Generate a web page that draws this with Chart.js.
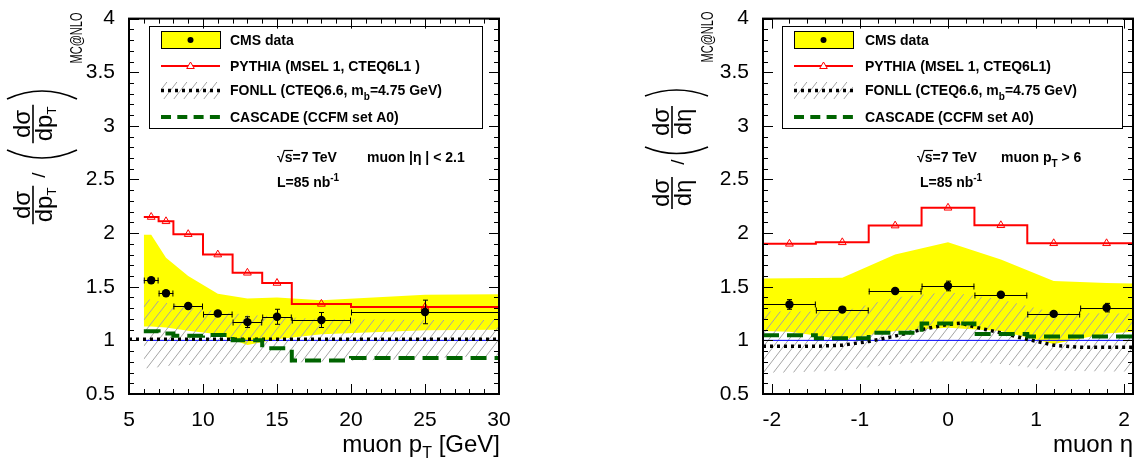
<!DOCTYPE html>
<html><head><meta charset="utf-8">
<script src="https://cdn.jsdelivr.net/npm/chart.js@4"></script>
<style>
html,body{margin:0;padding:0;background:#fff;}
#wrap{position:relative;width:1145px;height:464px;overflow:hidden;}
canvas{position:absolute;left:0;top:0;}
</style></head><body>
<div id="wrap"><canvas id="c1" width="1145" height="464"></canvas><canvas id="c2" width="1145" height="464"></canvas></div>
<script>
// ---------------- left panel: muon pT ----------------
const ptEdges   = [6, 7, 8, 10, 12, 14, 16, 20, 30];
const ptCenters = [6.5, 7.5, 9, 11, 13, 15, 18, 25];
const ptData    = [1.56, 1.44, 1.32, 1.25, 1.17, 1.22, 1.19, 1.265];
const ptDataErr = [0.02, 0.02, 0.02, 0.02, 0.05, 0.07, 0.07, 0.11];
const ptPythia  = [2.15, 2.11, 1.99, 1.80, 1.63, 1.535, 1.34, 1.31];
const ptCascade = [1.085, 1.063, 1.043, 1.05, 1.0, 0.926, 0.812, 0.835];
const ptFonllX  = [5, 6, 8, 10, 12, 14, 16, 20, 25, 30];
const ptFonll   = [1.01, 1.01, 1.01, 1.01, 1.01, 1.01, 1.01, 1.01, 1.01, 1.01];
const ptBandX   = [6, 6.5, 7.5, 9, 11, 13, 15, 18, 25, 30];
const ptSystHi  = [1.985, 1.985, 1.77, 1.60, 1.435, 1.39, 1.40, 1.375, 1.425, 1.43];
const ptSystLo  = [1.13, 1.13, 1.12, 1.09, 1.057, 0.956, 1.011, 1.057, 1.094, 1.10];
const ptFonllHi = [1.38, 1.38, 1.35, 1.31, 1.27, 1.24, 1.22, 1.20, 1.19, 1.19];
const ptFonllLo = [0.74, 0.74, 0.76, 0.77, 0.78, 0.79, 0.79, 0.80, 0.83, 0.86];
const ptRefX    = [6, 30];
const ptTicks   = [5, 10, 15, 20, 25, 30];

// ---------------- right panel: muon eta ----------------
const etaEdges   = [-2.1, -1.5, -0.9, -0.3, 0.3, 0.9, 1.5, 2.1];
const etaCenters = [-1.8, -1.2, -0.6, 0, 0.6, 1.2, 1.8];
const etaData    = [1.335, 1.287, 1.461, 1.507, 1.425, 1.247, 1.305];
const etaDataErr = [0.045, 0.02, 0.02, 0.045, 0.02, 0.02, 0.04];
const etaPythia  = [1.90, 1.914, 2.07, 2.236, 2.073, 1.905, 1.905];
const etaCascade = [1.048, 1.02, 1.072, 1.158, 1.06, 1.035, 1.035];
const etaFonllX  = [-2.1, -1.8, -1.5, -1.2, -0.9, -0.6, -0.3, 0, 0.15, 0.3, 0.6, 0.9, 1.2, 1.5, 1.8, 2.1];
const etaFonll   = [0.945, 0.945, 0.945, 0.955, 0.99, 1.04, 1.10, 1.15, 1.16, 1.125, 1.07, 1.01, 0.955, 0.935, 0.935, 0.935];
const etaBandX   = [-2.1, -1.8, -1.2, -0.6, 0, 0.6, 1.2, 1.8, 2.1];
const etaSystHi  = [1.578, 1.58, 1.585, 1.80, 1.914, 1.755, 1.553, 1.535, 1.531];
const etaSystLo  = [1.088, 1.08, 1.011, 1.088, 1.118, 1.088, 0.966, 1.065, 1.08];
const etaFonllHi = [1.27, 1.27, 1.27, 1.40, 1.45, 1.38, 1.26, 1.25, 1.25];
const etaFonllLo = [0.70, 0.70, 0.72, 0.78, 0.81, 0.78, 0.72, 0.71, 0.71];
const etaRefX    = [-2.1, 2.1];
const etaTicks   = [-2, -1, 0, 1, 2];

const yMin = 0.5, yMax = 4;

// ---------------- styling ----------------
const FONT = "'Liberation Sans', Arial, Helvetica, sans-serif";
Chart.defaults.font.family = FONT;
Chart.defaults.color = '#000';
const B14 = 'bold 14px ' + FONT;
const B10 = 'bold 10px ' + FONT;

function makeHatch() {
  const c = document.createElement('canvas'); c.width = 10; c.height = 13;
  const g = c.getContext('2d');
  g.strokeStyle = '#a4a4a4'; g.lineWidth = 1;
  g.beginPath();
  g.moveTo(0, 13); g.lineTo(10, 0);
  g.moveTo(-1, 1.3); g.lineTo(1, -1.3);
  g.moveTo(9, 14.3); g.lineTo(11, 11.7);
  g.stroke();
  return g.createPattern(c, 'repeat');
}
const HATCH = makeHatch();

const xy = (xs, ys) => xs.map((x, i) => ({x: x, y: ys[i]}));
const hist = (edges, vals) => edges.map((x, i) => ({x: x, y: vals[Math.min(i, vals.length - 1)]}));
const fmt = v => String(Math.round(v * 100) / 100);

function runsWidth(ctx, runs) {
  let w = 0;
  for (const r of runs) { ctx.font = r.f; w += ctx.measureText(r.t).width; }
  return w;
}
function drawRuns(ctx, x, y, runs, align) {
  const w = runsWidth(ctx, runs);
  let cx = align === 'right' ? x - w : (align === 'center' ? x - w / 2 : x);
  ctx.textAlign = 'left'; ctx.textBaseline = 'alphabetic';
  for (const r of runs) {
    ctx.font = r.f;
    ctx.fillText(r.t, cx, y + (r.dy || 0));
    const rw = ctx.measureText(r.t).width;
    if (r.over) {
      ctx.save(); ctx.lineWidth = 1.2; ctx.strokeStyle = '#000';
      ctx.beginPath(); ctx.moveTo(cx - 1, y - r.over); ctx.lineTo(cx + rw + 0.5, y - r.over); ctx.stroke();
      ctx.restore();
    }
    cx += rw;
  }
  return w;
}

function drawErrors(chart, P) {
  const xs = chart.scales.x, ys = chart.scales.y, ctx = chart.ctx;
  ctx.save();
  ctx.strokeStyle = '#000'; ctx.lineWidth = 1;
  ctx.beginPath();
  for (let i = 0; i < P.centers.length; i++) {
    const cx = Math.round(xs.getPixelForValue(P.centers[i])) + 0.5;
    const cy = Math.round(ys.getPixelForValue(P.data[i])) + 0.5;
    const xl = xs.getPixelForValue(P.edges[i]), xh = xs.getPixelForValue(P.edges[i + 1]);
    const yl = ys.getPixelForValue(P.data[i] - P.err[i]), yh = ys.getPixelForValue(P.data[i] + P.err[i]);
    ctx.moveTo(xl, cy); ctx.lineTo(xh, cy);
    ctx.moveTo(xl + 0.5, cy - 3); ctx.lineTo(xl + 0.5, cy + 3);
    ctx.moveTo(xh - 0.5, cy - 3); ctx.lineTo(xh - 0.5, cy + 3);
    ctx.moveTo(cx, yl); ctx.lineTo(cx, yh);
    ctx.moveTo(cx - 2.5, yl); ctx.lineTo(cx + 2.5, yl);
    ctx.moveTo(cx - 2.5, yh); ctx.lineTo(cx + 2.5, yh);
  }
  ctx.stroke();
  ctx.restore();
}

function drawFrame(chart, P) {
  const a = chart.chartArea, xs = chart.scales.x, ys = chart.scales.y, ctx = chart.ctx;
  ctx.save();
  ctx.strokeStyle = '#000';
  ctx.lineWidth = 1;
  ctx.beginPath();
  for (let i = Math.round(yMin * 10); i <= Math.round(yMax * 10); i++) {
    const py = Math.round(ys.getPixelForValue(i / 10)) + 0.5;
    const len = (i % 5 === 0) ? 10 : 5;
    ctx.moveTo(a.left, py); ctx.lineTo(a.left + len, py);
    ctx.moveTo(a.right, py); ctx.lineTo(a.right - len, py);
  }
  const k0 = Math.ceil(P.xmin / P.minorStep - 1e-9), k1 = Math.floor(P.xmax / P.minorStep + 1e-9);
  for (let k = k0; k <= k1; k++) {
    const px = Math.round(xs.getPixelForValue(k * P.minorStep)) + 0.5;
    const len = (k % P.majorEvery === 0) ? 10 : 5;
    ctx.moveTo(px, a.bottom); ctx.lineTo(px, a.bottom - len);
    ctx.moveTo(px, a.top); ctx.lineTo(px, a.top + len);
  }
  ctx.stroke();
  ctx.lineWidth = 2;
  ctx.strokeRect(a.left, a.top, a.right - a.left, a.bottom - a.top);
  ctx.restore();
}

function drawFrac(ctx, num, denRuns, c, bar) {
  const F = '24px ' + FONT;
  ctx.font = F;
  const wn = ctx.measureText(num).width;
  const wd = runsWidth(ctx, denRuns);
  ctx.textAlign = 'left'; ctx.textBaseline = 'alphabetic';
  ctx.font = F;
  ctx.fillText(num, -c - wn / 2, bar - 3);
  drawRuns(ctx, -c, bar + 19, denRuns, 'center');
  const w = Math.max(wn, wd);
  ctx.lineWidth = 1.6;
  ctx.beginPath(); ctx.moveTo(-c - w / 2 - 2, bar); ctx.lineTo(-c + w / 2 + 2, bar); ctx.stroke();
}

function drawYTitle(ctx, P) {
  const T = P.ytitle;
  ctx.save();
  ctx.fillStyle = '#000'; ctx.strokeStyle = '#000';
  // parentheses (drawn as arcs)
  ctx.lineWidth = 1.6;
  ctx.beginPath();
  ctx.moveTo(T.p0, T.lowA); ctx.quadraticCurveTo((T.p0 + T.p1) / 2, T.lowC, T.p1, T.lowA);
  ctx.moveTo(T.p0, T.upA); ctx.quadraticCurveTo((T.p0 + T.p1) / 2, T.upC, T.p1, T.upA);
  ctx.stroke();
  ctx.rotate(-Math.PI / 2);
  drawFrac(ctx, 'dσ', T.den, T.lowC0, T.bar);
  drawFrac(ctx, 'dσ', T.den, T.upC0, T.bar);
  ctx.font = '19px ' + FONT; ctx.textAlign = 'center';
  ctx.fillText('/', -T.slashC, T.slashB);
  ctx.font = '16px ' + FONT;
  ctx.fillText('MC@NLO', -T.mcC, T.mcB, 51);
  ctx.restore();
}

function drawLegend(ctx, P) {
  const L = P.leg;
  ctx.save();
  ctx.strokeStyle = '#000'; ctx.lineWidth = 1;
  ctx.strokeRect(L.x0 + 0.5, L.y0 + 0.5, L.x1 - L.x0, L.y1 - L.y0);
  const s0 = L.x0 + 12, s1 = L.x0 + 71, sc = (s0 + s1) / 2;
  // CMS data
  ctx.fillStyle = '#ffff00';
  ctx.fillRect(s0, 31, s1 - s0, 17);
  ctx.strokeRect(s0 + 0.5, 31.5, s1 - s0, 17);
  ctx.fillStyle = '#000';
  ctx.beginPath(); ctx.arc(sc, 40, 3, 0, Math.PI * 2); ctx.fill();
  // PYTHIA
  ctx.strokeStyle = '#ff0000'; ctx.lineWidth = 2;
  ctx.beginPath(); ctx.moveTo(s0, 66); ctx.lineTo(s1, 66); ctx.stroke();
  ctx.lineWidth = 1; ctx.fillStyle = '#fff';
  ctx.beginPath(); ctx.moveTo(sc, 62); ctx.lineTo(sc + 3.8, 68.5); ctx.lineTo(sc - 3.8, 68.5); ctx.closePath(); ctx.fill(); ctx.stroke();
  // FONLL
  ctx.fillStyle = HATCH;
  ctx.fillRect(s0, 82, s1 - s0, 17);
  ctx.strokeStyle = '#000'; ctx.lineWidth = 3.5; ctx.setLineDash([3, 4]);
  ctx.beginPath(); ctx.moveTo(s0, 90.5); ctx.lineTo(s1, 90.5); ctx.stroke();
  // CASCADE
  ctx.strokeStyle = '#006400'; ctx.lineWidth = 4; ctx.setLineDash([10, 6.3]);
  ctx.beginPath(); ctx.moveTo(s0, 117); ctx.lineTo(s1, 117); ctx.stroke();
  ctx.setLineDash([]);
  // texts
  ctx.fillStyle = '#000';
  const tx = L.tx;
  drawRuns(ctx, tx, 45, [{t: 'CMS data', f: B14}], 'left');
  drawRuns(ctx, tx, 70.5, [{t: P.pythiaLabel, f: B14}], 'left');
  drawRuns(ctx, tx, 95, [{t: 'FONLL (CTEQ6.6, m', f: B14}, {t: 'b', f: B10, dy: 5}, {t: '=4.75 GeV)', f: B14}], 'left');
  drawRuns(ctx, tx, 121.5, [{t: 'CASCADE (CCFM set A0)', f: B14}], 'left');
  // annotations
  drawRuns(ctx, P.ann.x1, 162, [{t: '√', f: B14}, {t: 's', f: B14, over: 11.5}, {t: '=7 TeV', f: B14}], 'left');
  drawRuns(ctx, P.ann.x2, 162, P.ann.runs, 'left');
  drawRuns(ctx, P.ann.x3, 187, [{t: 'L=85 nb', f: B14}, {t: '-1', f: B10, dy: -6}], 'left');
  // x title
  drawRuns(ctx, P.xtitle.x, 452, P.xtitle.runs, 'right');
  ctx.restore();
}

function panelPlugin(P) {
  return {
    id: 'panel' + P.id,
    beforeDatasetDraw(chart, args) { if (args.index === 0) drawErrors(chart, P); },
    afterDraw(chart) {
      drawFrame(chart, P);
      drawYTitle(chart.ctx, P);
      drawLegend(chart.ctx, P);
    }
  };
}

function makeChart(canvasId, P) {
  const ds = [
    {data: xy(P.centers, P.data), showLine: false, pointStyle: 'circle', pointRadius: 4.2,
     pointBackgroundColor: '#000', pointBorderWidth: 0, borderColor: '#000'},
    {data: xy(P.centers, P.pythia), showLine: false, pointStyle: 'triangle', pointRadius: 4.5,
     pointBackgroundColor: 'rgba(255,255,255,0)', pointBorderColor: '#ff0000', pointBorderWidth: 1},
    {data: hist(P.edges, P.pythia), stepped: 'before', borderColor: '#ff0000', borderWidth: 2, pointRadius: 0, fill: false},
    {data: hist(P.edges, P.cascade), stepped: 'before', borderColor: '#006400', borderWidth: 4,
     borderDash: [16, 8], borderCapStyle: 'butt', pointRadius: 0, fill: false},
    {data: xy(P.fonllX, P.fonll), borderColor: '#000', borderWidth: 3.5, borderDash: [3, 4],
     borderCapStyle: 'butt', pointRadius: 0, fill: false},
    {data: xy(P.refX, P.refX.map(() => 1)), borderColor: '#0000ff', borderWidth: 1, pointRadius: 0, fill: false},
    {data: xy(P.bandX, P.fonllHi), borderColor: 'rgba(0,0,0,0)', borderWidth: 0, pointRadius: 0,
     fill: '+1', backgroundColor: HATCH},
    {data: xy(P.bandX, P.fonllLo), borderColor: 'rgba(0,0,0,0)', borderWidth: 0, pointRadius: 0, fill: false},
    {data: xy(P.bandX, P.systHi), borderColor: 'rgba(0,0,0,0)', borderWidth: 0, pointRadius: 0,
     fill: '+1', backgroundColor: '#ffff00'},
    {data: xy(P.bandX, P.systLo), borderColor: 'rgba(0,0,0,0)', borderWidth: 0, pointRadius: 0, fill: false}
  ];
  return new Chart(document.getElementById(canvasId), {
    type: 'line',
    data: {datasets: ds},
    options: {
      responsive: false, animation: false, events: [],
      layout: {padding: {left: P.padLeft, right: P.padRight, top: 13, bottom: 0}},
      plugins: {legend: {display: false}, tooltip: {enabled: false}},
      elements: {line: {tension: 0}},
      scales: {
        x: {type: 'linear', min: P.xmin, max: P.xmax,
            grid: {display: false}, border: {display: false},
            ticks: {font: {size: 21}, color: '#000', padding: 6, maxRotation: 0, autoSkip: false,
                    callback: v => fmt(v)},
            afterBuildTicks: s => { s.ticks = P.ticks.map(v => ({value: v})); },
            afterFit: s => { s.height = 70; }},
        y: {type: 'linear', min: yMin, max: yMax,
            grid: {display: false}, border: {display: false},
            ticks: {stepSize: 0.5, font: {size: 21}, color: '#000', padding: 6, callback: v => fmt(v)},
            afterFit: s => { s.width = P.yWidth; }}
      }
    },
    plugins: [panelPlugin(P)]
  });
}

makeChart('c1', {
  id: 1, centers: ptCenters, edges: ptEdges, data: ptData, err: ptDataErr, pythia: ptPythia,
  cascade: ptCascade, fonllX: ptFonllX, fonll: ptFonll, bandX: ptBandX, systHi: ptSystHi, systLo: ptSystLo,
  fonllHi: ptFonllHi, fonllLo: ptFonllLo, refX: ptRefX, ticks: ptTicks,
  xmin: 5, xmax: 30, minorStep: 1, majorEvery: 5,
  padLeft: 0, yWidth: 129, padRight: 1145 - 499,
  pythiaLabel: 'PYTHIA (MSEL 1, CTEQ6L1 )',
  leg: {x0: 149, y0: 26, x1: 482, y1: 128, tx: 230},
  ann: {x1: 277, x2: 367, x3: 277, runs: [{t: 'muon |η | < 2.1', f: B14}]},
  xtitle: {x: 500, runs: [{t: 'muon p', f: '24px ' + FONT}, {t: 'T', f: '16px ' + FONT, dy: 6}, {t: ' [GeV]', f: '24px ' + FONT}]},
  ytitle: {den: [{t: 'dp', f: '24px ' + FONT}, {t: 'T', f: '13px ' + FONT, dy: 4}],
           bar: 33, lowC0: 205, upC0: 124, p0: 7, p1: 77, lowA: 150, lowC: 166, upA: 99, upC: 83,
           slashC: 175, slashB: 45, mcC: 38, mcB: 82}
});

makeChart('c2', {
  id: 2, centers: etaCenters, edges: etaEdges, data: etaData, err: etaDataErr, pythia: etaPythia,
  cascade: etaCascade, fonllX: etaFonllX, fonll: etaFonll, bandX: etaBandX, systHi: etaSystHi, systLo: etaSystLo,
  fonllHi: etaFonllHi, fonllLo: etaFonllLo, refX: etaRefX, ticks: etaTicks,
  xmin: -2.1, xmax: 2.1, minorStep: 0.2, majorEvery: 5,
  padLeft: 600, yWidth: 163, padRight: 1145 - 1133,
  pythiaLabel: 'PYTHIA (MSEL 1, CTEQ6L1)',
  leg: {x0: 782, y0: 26, x1: 1122, y1: 128, tx: 865},
  ann: {x1: 917, x2: 1001, x3: 920, runs: [{t: 'muon p', f: B14}, {t: 'T', f: B10, dy: 5}, {t: ' > 6', f: B14}]},
  xtitle: {x: 1133, runs: [{t: 'muon η', f: '24px ' + FONT}]},
  ytitle: {den: [{t: 'dη', f: '24px ' + FONT}],
           bar: 672, lowC0: 193, upC0: 122, p0: 645, p1: 708, lowA: 147, lowC: 160, upA: 96, upC: 84,
           slashC: 162, slashB: 684, mcC: 37, mcB: 713}
});
</script>
</body></html>
